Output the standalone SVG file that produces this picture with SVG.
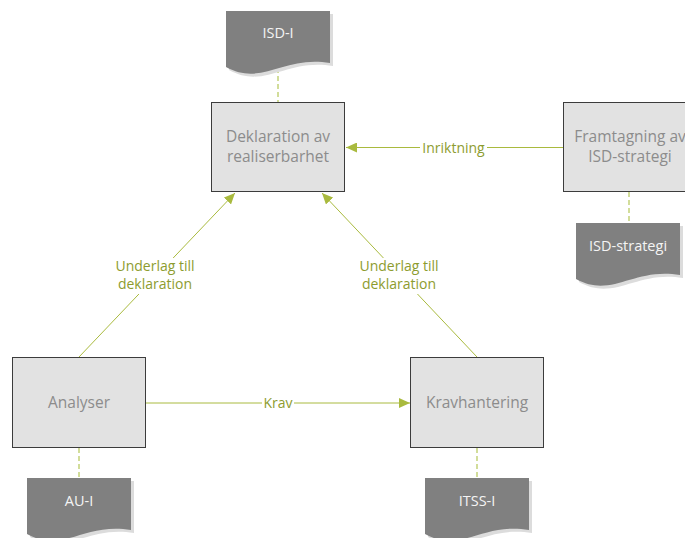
<svg xmlns="http://www.w3.org/2000/svg" width="685" height="538" viewBox="0 0 685 538">
  <style>
    .box { fill: #e2e2e2; stroke: #3c3c3c; stroke-width: 1; }
    .boxtext { font-family: "Open Sans", "Liberation Sans", sans-serif; font-size: 15.5px; fill: #8c8c8c; text-anchor: middle; }
    .doc { fill: #808080; }
    .docshadow { fill: #dcdcdc; }
    .doctext { font-family: "Open Sans", "Liberation Sans", sans-serif; font-size: 14.5px; fill: #f4f4f4; text-anchor: middle; }
    .flow { fill: none; stroke: #a9ba3e; stroke-width: 1; }
    .link { fill: none; stroke: #c3d27a; stroke-width: 1.5; stroke-dasharray: 5 3; }
    .label { font-family: "Open Sans", "Liberation Sans", sans-serif; font-size: 14px; fill: #8d9c2f; text-anchor: middle; }
    .labelbg { fill: #ffffff; }
  </style>
  <defs>
    <marker id="arrow" markerUnits="userSpaceOnUse" markerWidth="11" markerHeight="10" refX="11" refY="5" orient="auto">
      <path d="M0,0 L11,5 L0,10 z" fill="#a9ba3e"/>
    </marker>
    <!-- document shape with wavy bottom, 104 wide -->
    <path id="docShape" d="M0,0 H104 V52 C57,44 36,76 0,56 Z"/>
  </defs>

  <rect width="685" height="538" fill="#ffffff"/>

  <!-- dashed links between processes and their documents -->
  <g id="links">
    <line class="link" x1="278" y1="68" x2="278" y2="102"/>
    <line class="link" x1="629" y1="192" x2="629" y2="223"/>
    <line class="link" x1="79" y1="448" x2="79" y2="478"/>
    <line class="link" x1="477" y1="448" x2="477" y2="478"/>
  </g>

  <!-- flows between processes -->
  <g id="connectors">
    <line class="flow" x1="79" y1="357" x2="235" y2="193" marker-end="url(#arrow)"/>
    <line class="flow" x1="477" y1="357" x2="322" y2="193" marker-end="url(#arrow)"/>
    <line class="flow" x1="563" y1="147.5" x2="346" y2="147.5" marker-end="url(#arrow)"/>
    <line class="flow" x1="145" y1="403" x2="410" y2="403" marker-end="url(#arrow)"/>

    <rect class="labelbg" x="112" y="258" width="86" height="36"/>
    <text class="label" x="155" y="271">Underlag till</text>
    <text class="label" x="155" y="289">deklaration</text>

    <rect class="labelbg" x="356" y="258" width="86" height="36"/>
    <text class="label" x="399" y="271">Underlag till</text>
    <text class="label" x="399" y="289">deklaration</text>

    <rect class="labelbg" x="420" y="140" width="67" height="16"/>
    <text class="label" x="453.5" y="153">Inriktning</text>

    <rect class="labelbg" x="262" y="395" width="32" height="16"/>
    <text class="label" x="278" y="408">Krav</text>
  </g>

  <!-- process boxes -->
  <g id="deklaration">
    <rect class="box" x="211.5" y="102.5" width="133" height="89"/>
    <text class="boxtext" x="278" y="142">Deklaration av</text>
    <text class="boxtext" x="278" y="162">realiserbarhet</text>
  </g>

  <g id="framtagning">
    <rect class="box" x="563.5" y="102.5" width="133" height="89"/>
    <text class="boxtext" x="630" y="142">Framtagning av</text>
    <text class="boxtext" x="630" y="162">ISD-strategi</text>
  </g>

  <g id="analyser">
    <rect class="box" x="12.5" y="357.5" width="133" height="90"/>
    <text class="boxtext" x="79" y="408">Analyser</text>
  </g>

  <g id="kravhantering">
    <rect class="box" x="410.5" y="357.5" width="133" height="90"/>
    <text class="boxtext" x="477" y="408">Kravhantering</text>
  </g>

  <!-- documents -->
  <g id="doc-isd-i">
    <use href="#docShape" class="docshadow" transform="translate(229,14)"/>
    <use href="#docShape" class="doc" transform="translate(226,11)"/>
    <text class="doctext" x="278" y="38">ISD-I</text>
  </g>

  <g id="doc-isd-strategi">
    <use href="#docShape" class="docshadow" transform="translate(579,226)"/>
    <use href="#docShape" class="doc" transform="translate(576,223)"/>
    <text class="doctext" x="628" y="251">ISD-strategi</text>
  </g>

  <g id="doc-au-i">
    <use href="#docShape" class="docshadow" transform="translate(30,481)"/>
    <use href="#docShape" class="doc" transform="translate(27,478)"/>
    <text class="doctext" x="79" y="506">AU-I</text>
  </g>

  <g id="doc-itss-i">
    <use href="#docShape" class="docshadow" transform="translate(428,481)"/>
    <use href="#docShape" class="doc" transform="translate(425,478)"/>
    <text class="doctext" x="477" y="506">ITSS-I</text>
  </g>
</svg>
